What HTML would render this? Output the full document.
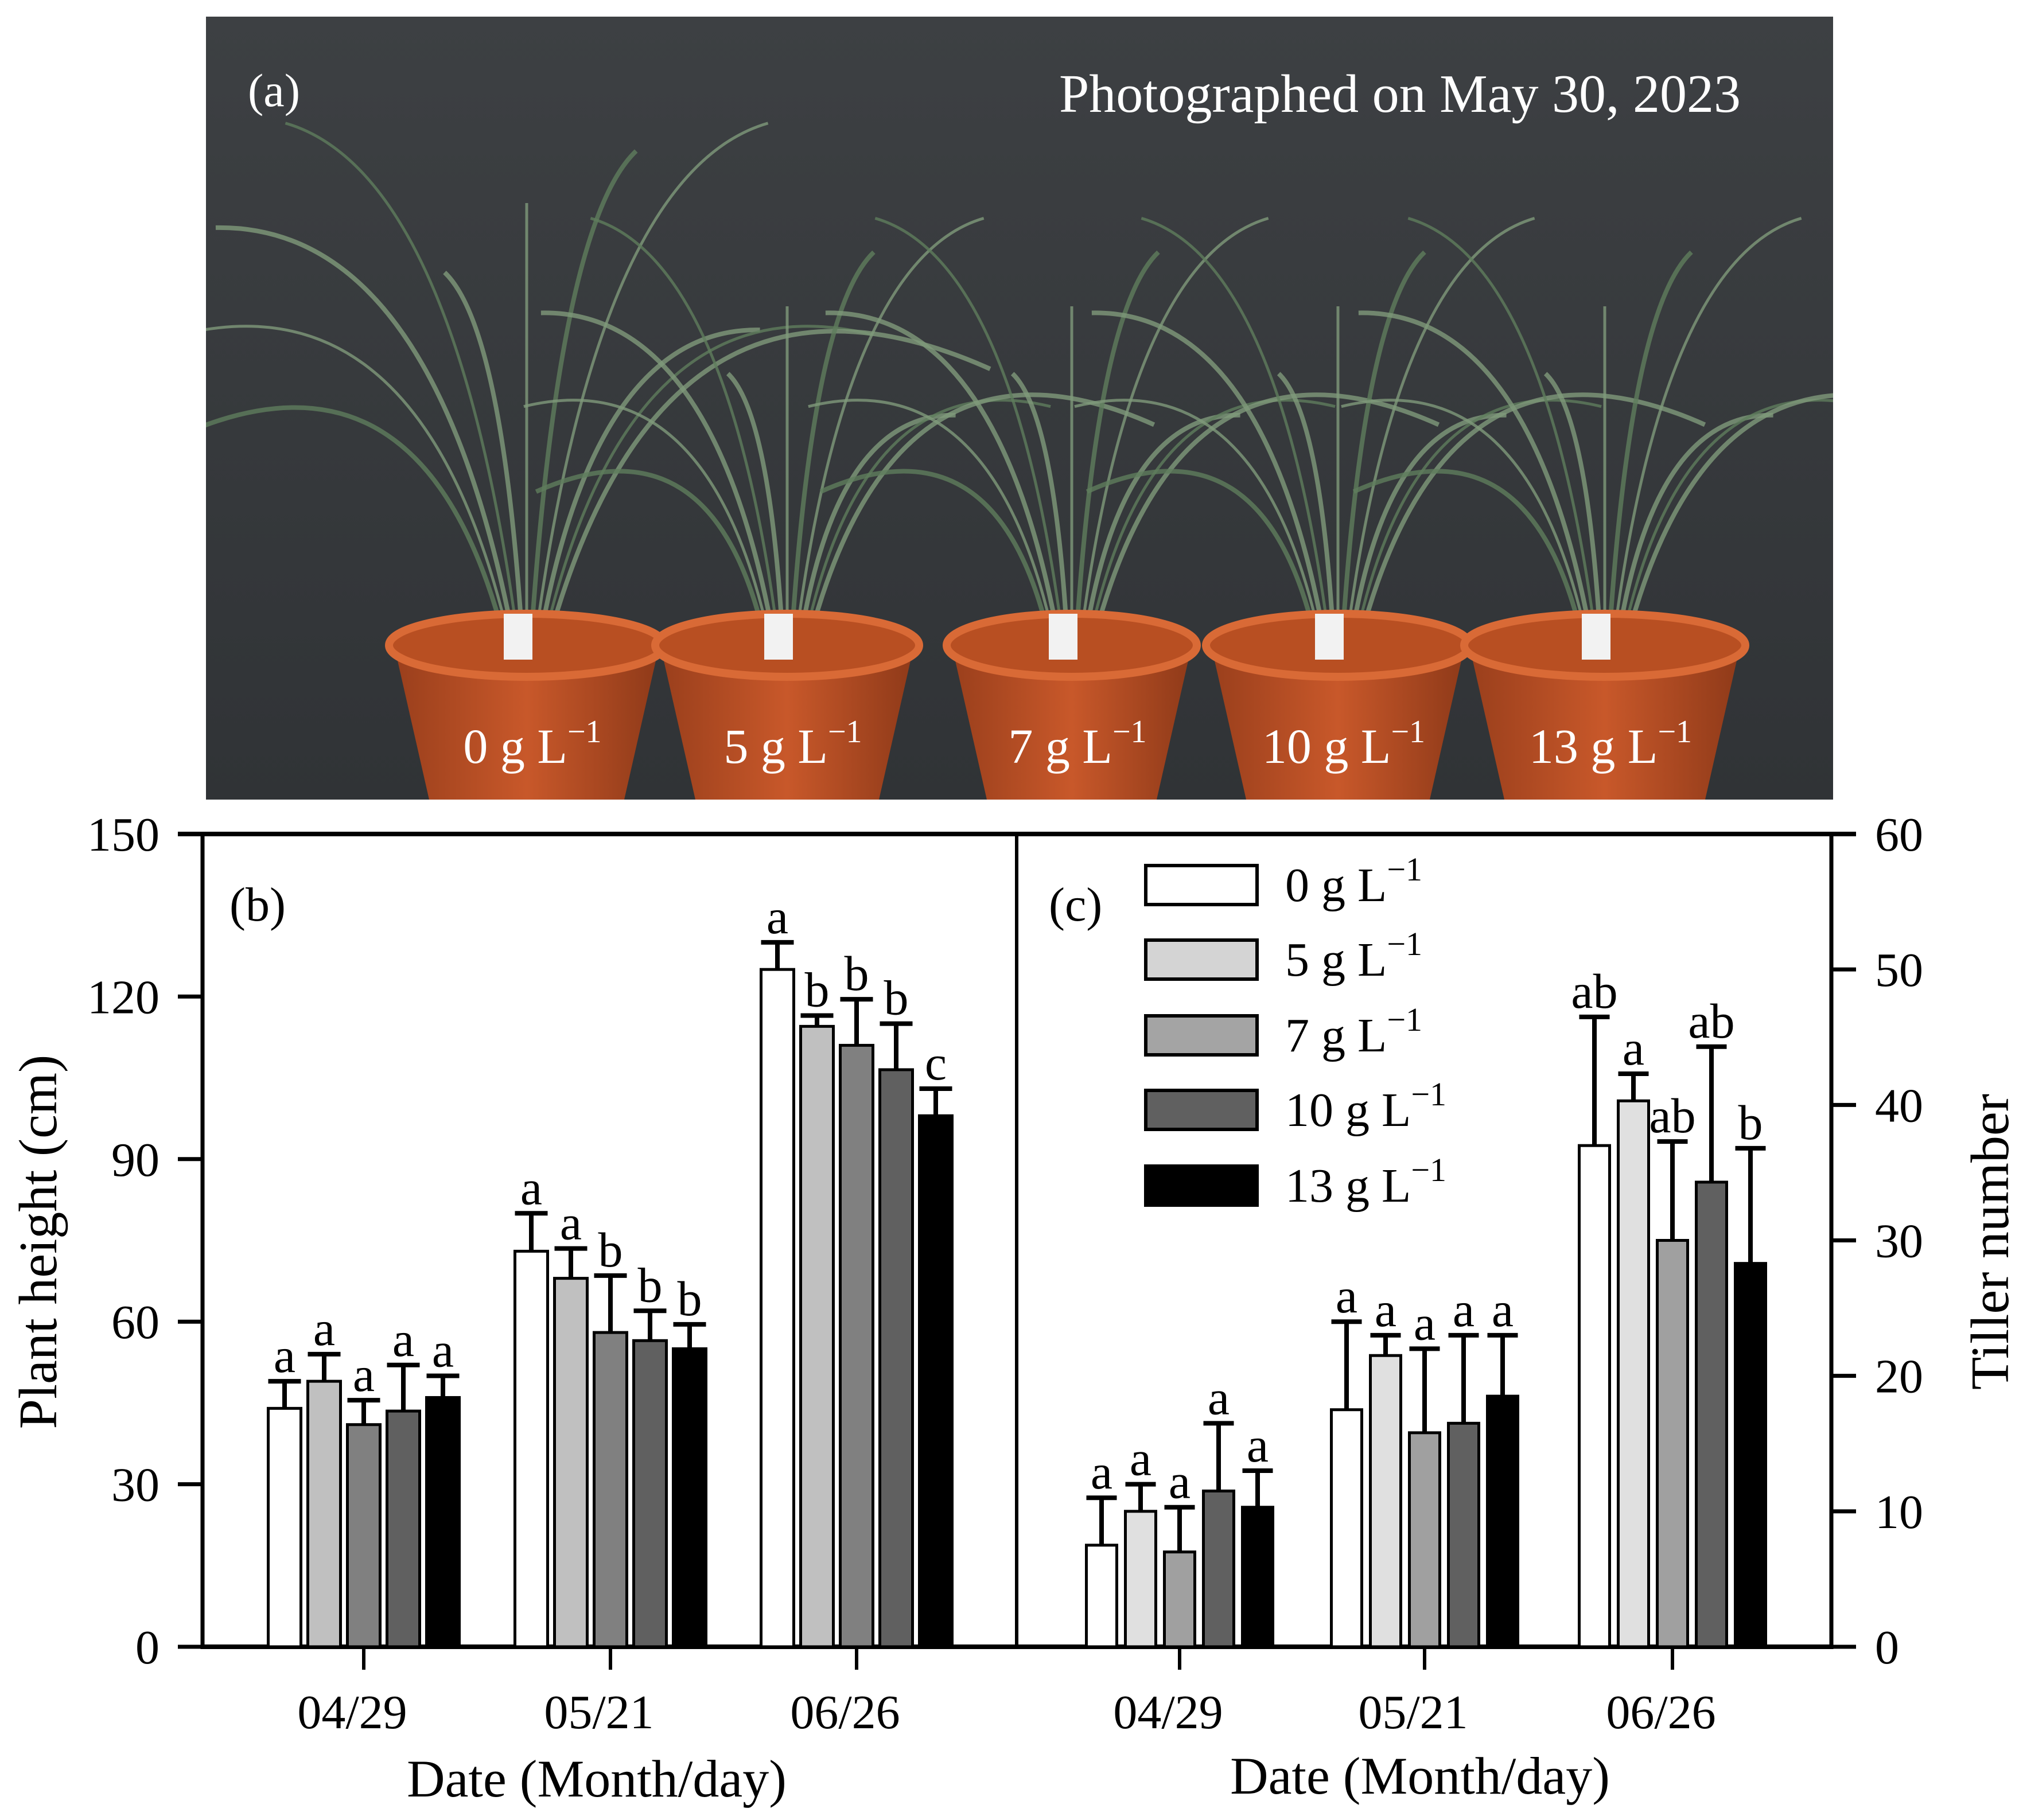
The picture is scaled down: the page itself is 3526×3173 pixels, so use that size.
<!DOCTYPE html>
<html><head><meta charset="utf-8"><style>
html,body{margin:0;padding:0;background:#fff}
svg{display:block}
text{font-family:"Liberation Serif",serif;fill:#000}
</style></head><body>
<svg id="fig" width="3526" height="3173" viewBox="0 0 3526 3173" xmlns="http://www.w3.org/2000/svg">
<defs>
<linearGradient id="bg" x1="0" y1="0" x2="0" y2="1"><stop offset="0" stop-color="#3d4043"/><stop offset="1" stop-color="#303336"/></linearGradient>
<linearGradient id="pot" x1="0" y1="0" x2="1" y2="0"><stop offset="0" stop-color="#9a3f1c"/><stop offset="0.5" stop-color="#c8582a"/><stop offset="1" stop-color="#8f3a19"/></linearGradient>
<clipPath id="photoClip"><rect x="359" y="29" width="2836" height="1365"/></clipPath>
</defs>
<g id="photo">
<rect x="359" y="29" width="2836" height="1365" fill="url(#bg)"/>
<g id="plants" clip-path="url(#photoClip)"></g>
<g id="pots" clip-path="url(#photoClip)"></g>
<text x="432" y="185" font-size="82" style="fill:#fff">(a)</text>
<text x="2440" y="195" font-size="94" text-anchor="middle" style="fill:#fff">Photographed on May 30, 2023</text>
</g>
<g id="chart"></g>
</svg>
<script>
// ---- chart data ----
const dates = ["04/29","05/21","06/26"];
const treatments = ["0 g L","5 g L","7 g L","10 g L","13 g L"];
const heightMean = [[44,49,41,43.5,46],[73,68,58,56.5,55],[125,114.5,111,106.5,98]];
const heightErr = [[5,5,4.5,8.5,4],[7,5.5,10.5,5.5,4.5],[5,2,8.5,8.5,5]];
const heightLetters = [["a","a","a","a","a"],["a","a","b","b","b"],["a","b","b","b","c"]];
const tillerMean = [[7.5,10,7,11.5,10.3],[17.5,21.5,15.8,16.5,18.5],[37,40.3,30,34.3,28.3]];
const tillerErr = [[3.5,2,3.3,5,2.7],[6.5,1.5,6.2,6.5,4.5],[9.5,2,7.3,10,8.5]];
const tillerLetters = [["a","a","a","a","a"],["a","a","a","a","a"],["ab","a","ab","ab","b"]];
const heightTicks = [0,30,60,90,120,150];
const tillerTicks = [0,10,20,30,40,50,60];

const NS="http://www.w3.org/2000/svg";
const chart=document.getElementById('chart');
function mk(tag,attrs,parent){const e=document.createElementNS(NS,tag);for(const k in attrs)e.setAttribute(k,attrs[k]);(parent||chart).appendChild(e);return e;}

const top_=1454,bot=2871,xL=353,xD=1772,xR=3192;
const yH=v=>bot-(v/150)*(bot-top_);
const yT=v=>bot-(v/60)*(bot-top_);
const leftCenters=[634,1064,1493], rightCenters=[2056,2483,2915];
const fillsL=["#ffffff","#c0c0c0","#808080","#606060","#000000"];
const fillsR=["#ffffff","#e0e0e0","#a0a0a0","#606060","#000000"];
const legendFills=["#ffffff","#d4d4d4","#a4a4a4","#606060","#000000"];

let e;
e=mk('line',{x1:xL-43,y1:top_,x2:xR+43,y2:top_,stroke:'#000','stroke-width':8});

e=mk('line',{x1:xL,y1:bot,x2:xR,y2:bot,stroke:'#000','stroke-width':8});

e=mk('line',{x1:xL,y1:top_,x2:xL,y2:bot+4,stroke:'#000','stroke-width':7});

e=mk('line',{x1:xD,y1:top_,x2:xD,y2:bot+4,stroke:'#000','stroke-width':6});

e=mk('line',{x1:xR,y1:top_,x2:xR,y2:bot+4,stroke:'#000','stroke-width':7});


heightTicks.forEach(v=>{
 const y=yH(v);
 e=mk('line',{x1:xL-43,y1:y,x2:xL,y2:y,stroke:'#000','stroke-width':7});
 
 e=mk('text',{x:278,y:y+29,'font-size':84,'text-anchor':'end'});e.textContent=v;
 
});
tillerTicks.forEach(v=>{
 const y=yT(v);
 e=mk('line',{x1:xR,y1:y,x2:xR+43,y2:y,stroke:'#000','stroke-width':7});
 
 e=mk('text',{x:3268,y:y+29,'font-size':84,'text-anchor':'start'});e.textContent=v;
 
});

function drawPanel(centers,means,errs,letters,fills,yf,bw,step,name){
 dates.forEach((d,gi)=>{
  const c=centers[gi];
  e=mk('line',{x1:c,y1:bot,x2:c,y2:bot+40,stroke:'#000','stroke-width':6});
  
  e=mk('text',{x:c-20,y:3013,'font-size':84,'text-anchor':'middle'});e.textContent=d;
  
  means[gi].forEach((m,ti)=>{
   const x=c+(ti-2)*step-bw/2;
   const yt=yf(m), ye=yf(m+errs[gi][ti]);
   e=mk('line',{x1:x+bw/2,y1:yt,x2:x+bw/2,y2:ye,stroke:'#000','stroke-width':8});
   
   e=mk('line',{x1:x,y1:ye,x2:x+bw,y2:ye,stroke:'#000','stroke-width':8});
   
   e=mk('rect',{x:x,y:yt,width:bw,height:bot-yt,fill:fills[ti],stroke:'#000','stroke-width':5});
   
   e=mk('text',{x:x+bw/2,y:ye-16,'font-size':86,'text-anchor':'middle'});e.textContent=letters[gi][ti];
   
  });
 });
}
drawPanel(leftCenters,heightMean,heightErr,heightLetters,fillsL,yH,57,69,'height');
drawPanel(rightCenters,tillerMean,tillerErr,tillerLetters,fillsR,yT,53,68,'tiller');

e=mk('text',{x:400,y:1605,'font-size':84});e.textContent='(b)';

e=mk('text',{x:1828,y:1605,'font-size':84});e.textContent='(c)';


e=mk('text',{x:0,y:0,'font-size':94,'text-anchor':'middle',transform:'translate(98,2165) rotate(-90)'});e.textContent='Plant height (cm)';

e=mk('text',{x:0,y:0,'font-size':94,'text-anchor':'middle',transform:'translate(3500,2165) rotate(-90)'});e.textContent='Tiller number';

e=mk('text',{x:1040,y:3132,'font-size':92,'text-anchor':'middle'});e.textContent='Date (Month/day)';

e=mk('text',{x:2475,y:3127,'font-size':92,'text-anchor':'middle'});e.textContent='Date (Month/day)';


const legRows=[1543,1673,1805,1935,2067];
treatments.forEach((t,i)=>{
 const g=mk('g',{});
 
 e=mk('rect',{x:1997,y:legRows[i]-34,width:194,height:68,fill:legendFills[i],stroke:'#000','stroke-width':6},g);
 
 e=mk('text',{x:2240,y:legRows[i]+28,'font-size':84},g);
 e.textContent=t;
 const s=mk('tspan',{dy:-36,'font-size':58},e);s.textContent='\u22121';
 
});

// ---- photo decoration ----
const potsG=document.getElementById('pots'), plantsG=document.getElementById('plants');
const potCx=[918,1372,1868,2332,2797], potW=[480,460,436,460,490];
const potLbl=["0 g L","5 g L","7 g L","10 g L","13 g L"];
potCx.forEach((cx,i)=>{
 const w=potW[i];
 for(let k=0;k<11;k++){
  const a=(k/10-0.5)*2.0;const len=520+(k%4)*120+(i===0?200:0);
  const x2=cx+Math.sin(a)*len, y2=1110-Math.cos(a)*len*0.9;
  const cxp=cx+Math.sin(a)*len*0.3, cyp=1110-len*0.75;
  e=mk('path',{d:`M${cx+(k-5)*8},1110 Q${cxp},${cyp} ${x2},${y2}`,fill:'none',stroke:k%3?'#7f9a7a':'#5f7d5c','stroke-width':k%2?5:8,opacity:0.8},plantsG);
  
 }
 e=mk('path',{d:`M${cx-w/2+10},1130 L${cx-w/2+70},1394 L${cx+w/2-70},1394 L${cx+w/2-10},1130 Z`,fill:'url(#pot)'},potsG);
 
 e=mk('ellipse',{cx:cx,cy:1125,rx:w/2,ry:55,fill:'#b84f22',stroke:'#d96a36','stroke-width':14},potsG);
 
 e=mk('rect',{x:cx-40,y:1070,width:50,height:80,fill:'#f2f2f2'},potsG);
 
 e=mk('text',{x:cx+10,y:1330,'font-size':86,'text-anchor':'middle',style:'fill:#fff'},potsG);
 e.textContent=potLbl[i];
 const s=mk('tspan',{dy:-36,'font-size':56,style:'fill:#fff'},e);s.textContent='\u22121';
 
});
</script>
</body></html>
